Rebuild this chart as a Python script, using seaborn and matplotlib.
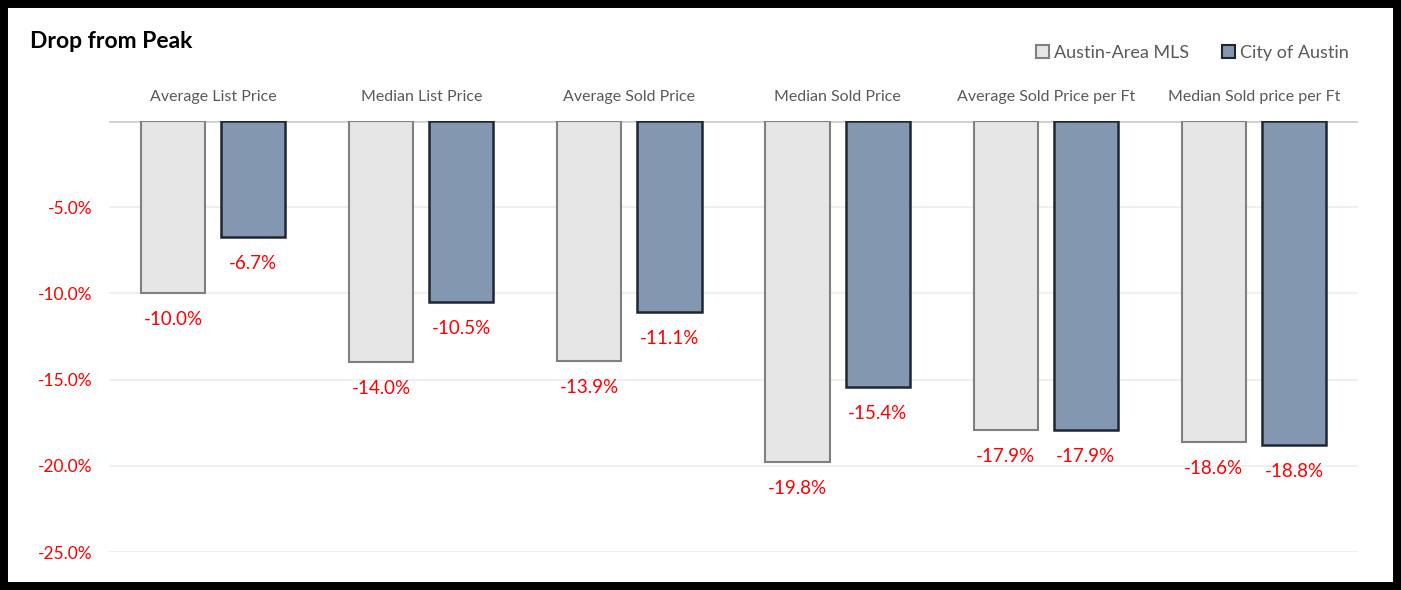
import pandas as pd
import seaborn as sns
import matplotlib.pyplot as plt
from matplotlib.patches import Patch, Rectangle

# chart data
categories = ['Average List Price', 'Median List Price', 'Average Sold Price',
              'Median Sold Price', 'Average Sold Price per Ft', 'Median Sold price per Ft']
series = ['Austin-Area MLS', 'City of Austin']
mls_drop = [-10.0, -14.0, -13.9, -19.8, -17.9, -18.6]
city_drop = [-6.7, -10.5, -11.1, -15.4, -17.9, -18.8]
y_ticks = [-5, -10, -15, -20, -25]

fills = ['#e6e6e6', '#8497b0']
edges = ['#808080', '#1e2633']

df = pd.DataFrame({
    'category': categories * 2,
    'series': [series[0]] * len(categories) + [series[1]] * len(categories),
    'drop': mls_drop + city_drop,
})

sns.set_style('white')
plt.rcParams['font.family'] = ['Lato', 'DejaVu Sans']

fig = plt.figure(figsize=(14.01, 5.9), dpi=100)
ax = fig.add_axes([0.0778, 0.0644, 0.8915, 0.7305])

sns.barplot(data=df, x='category', y='drop', hue='series', order=categories,
            hue_order=series, palette=fills, saturation=1, width=0.77, gap=0.2,
            legend=False, ax=ax)

for i, cont in enumerate(ax.containers):
    for bar in cont:
        bar.set_edgecolor(edges[i])
        bar.set_linewidth(1.5 if i == 0 else 1.8)
    ax.bar_label(cont, labels=[f'{v:.1f}%' for v in cont.datavalues],
                 padding=13, color='#ff0000', fontsize=13.5)

ax.set_ylim(-25, 0)
ax.set_yticks(y_ticks)
ax.set_yticklabels([f'{v:.1f}%' for v in y_ticks], color='#ff0000', fontsize=12.5)
ax.tick_params(axis='y', length=0, pad=12)

ax.xaxis.tick_top()
ax.tick_params(axis='x', length=0, pad=12, labelsize=11.5, labelcolor='#595959')
ax.set_xlabel('')
ax.set_ylabel('')

ax.grid(axis='y', color='#f0f0f0', linewidth=1.5)
ax.set_axisbelow(True)
ax.axhline(0, color='#d0d0d0', linewidth=2, zorder=0)
for s in ax.spines.values():
    s.set_visible(False)

fig.text(0.0214, 0.93, 'Drop from Peak', fontsize=16.5, fontweight='bold',
         color='black', va='center')

handles = [Patch(facecolor=fills[i], edgecolor=edges[i], linewidth=1.5, label=series[i])
           for i in range(2)]
fig.legend(handles=handles, loc='center right', bbox_to_anchor=(0.974, 0.91), ncol=2,
           frameon=False, fontsize=13, handlelength=0.75, handleheight=0.75,
           handletextpad=0.25, columnspacing=1.8, labelcolor='#595959')

fig.patches.append(Rectangle((0, 0), 1, 1, transform=fig.transFigure, fill=False,
                             edgecolor='black', linewidth=11.5, zorder=10))

fig.savefig('out.png', dpi=100)
